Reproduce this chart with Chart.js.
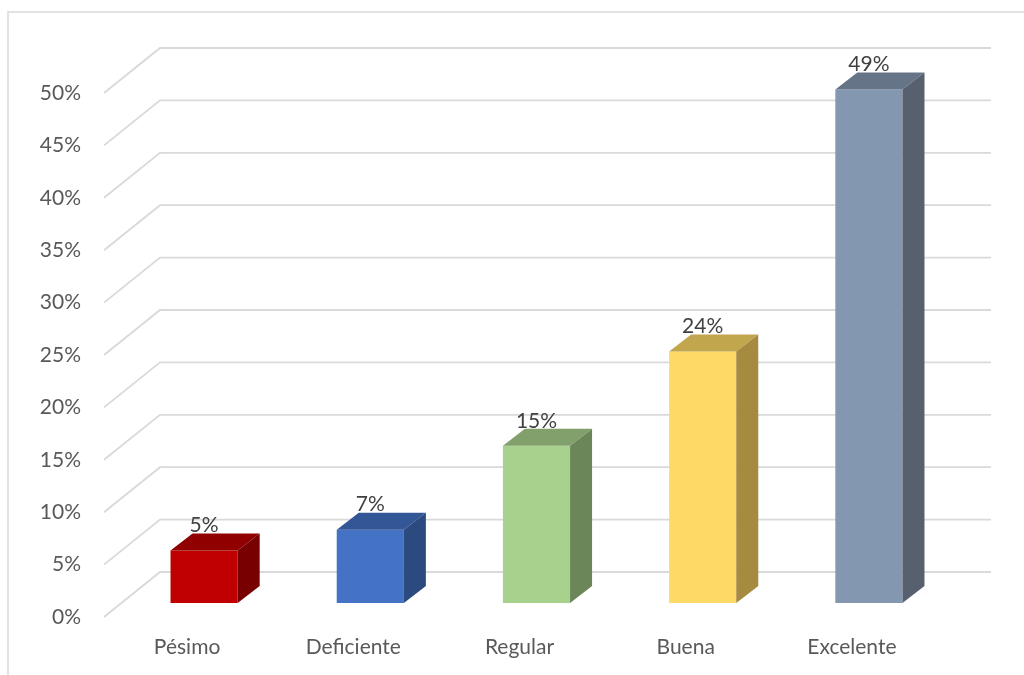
<!DOCTYPE html>
<html>
<head>
<meta charset="utf-8">
<script src="https://cdn.jsdelivr.net/npm/chart.js@4.4.0/dist/chart.umd.min.js"></script>
<style>
  html, body { margin: 0; padding: 0; background: #fff; }
  #wrap { width: 1024px; height: 675px; }
</style>
</head>
<body>
<div id="wrap"><canvas id="myChart" width="1024" height="675"></canvas></div>
<script>
// datos
const categorias = ['Pésimo', 'Deficiente', 'Regular', 'Buena', 'Excelente'];
const porcentajes = [5, 7, 15, 24, 49];
const ticksY = [0, 5, 10, 15, 20, 25, 30, 35, 40, 45, 50];

const colFrente = ['#C00000', '#4472C4', '#A9D18E', '#FFD966', '#8497B0'];
const colArriba = ['#900000', '#335696', '#82A06C', '#C2A64E', '#667487'];
const colLado   = ['#780000', '#2B4A80', '#6B8659', '#A68A40', '#56606F'];

// profundidad del "3D"
const FONDO_X = 56, FONDO_Y = -45;   // pared del fondo
const BARRA_X = 17, BARRA_Y = -14;   // plano frontal de las barras
const PROF_X = 22, PROF_Y = -17;     // grosor de cada barra

const fuente = 'Lato, "Open Sans", sans-serif';

const grafico3d = {
  id: 'grafico3d',
  beforeDraw(chart) {
    const ctx = chart.ctx;
    ctx.save();
    ctx.fillStyle = '#fff';
    ctx.fillRect(0, 0, chart.width, chart.height);
    // marco
    ctx.strokeStyle = '#d9d9d9';
    ctx.lineWidth = 1.5;
    ctx.beginPath();
    ctx.moveTo(8, 675);
    ctx.lineTo(8, 12);
    ctx.lineTo(1024, 12);
    ctx.stroke();
    ctx.restore();
  },
  beforeDatasetsDraw(chart) {
    const ctx = chart.ctx;
    const y = chart.scales.y;
    const area = chart.chartArea;
    ctx.save();
    ctx.strokeStyle = '#d9d9d9';
    ctx.lineWidth = 1.8;
    ticksY.forEach(v => {
      const py = y.getPixelForValue(v);
      ctx.beginPath();
      ctx.moveTo(area.left, py);
      ctx.lineTo(area.left + FONDO_X, py + FONDO_Y);
      ctx.lineTo(area.right + FONDO_X, py + FONDO_Y);
      ctx.stroke();
    });
    ctx.restore();
    // las barras se dibujan desplazadas hacia el fondo
    ctx.save();
    ctx.translate(BARRA_X, BARRA_Y);
  },
  afterDatasetsDraw(chart) {
    const ctx = chart.ctx;
    ctx.restore();
    const meta = chart.getDatasetMeta(0);
    ctx.save();
    ctx.translate(BARRA_X, BARRA_Y);
    meta.data.forEach((bar, i) => {
      const p = bar.getProps(['x', 'y', 'base', 'width'], true);
      const l = p.x - p.width / 2, r = p.x + p.width / 2;
      // cara superior
      ctx.fillStyle = colArriba[i];
      ctx.beginPath();
      ctx.moveTo(l, p.y);
      ctx.lineTo(l + PROF_X, p.y + PROF_Y);
      ctx.lineTo(r + PROF_X, p.y + PROF_Y);
      ctx.lineTo(r, p.y);
      ctx.closePath();
      ctx.fill();
      // cara lateral
      ctx.fillStyle = colLado[i];
      ctx.beginPath();
      ctx.moveTo(r, p.y);
      ctx.lineTo(r + PROF_X, p.y + PROF_Y);
      ctx.lineTo(r + PROF_X, p.base + PROF_Y);
      ctx.lineTo(r, p.base);
      ctx.closePath();
      ctx.fill();
      // etiqueta
      ctx.fillStyle = '#404040';
      ctx.font = '21px ' + fuente;
      ctx.textAlign = 'center';
      ctx.textBaseline = 'middle';
      ctx.fillText(porcentajes[i] + '%', p.x, p.y - 25);
    });
    ctx.restore();
  }
};

new Chart(document.getElementById('myChart'), {
  type: 'bar',
  data: {
    labels: categorias,
    datasets: [{
      data: porcentajes,
      backgroundColor: colFrente,
      borderWidth: 0,
      categoryPercentage: 1,
      barPercentage: 0.404
    }]
  },
  options: {
    responsive: false,
    animation: false,
    events: [],
    layout: { padding: { top: 93, right: 89, bottom: 0, left: 0 } },
    plugins: { legend: { display: false }, tooltip: { enabled: false } },
    scales: {
      x: {
        grid: { display: false, drawTicks: false },
        border: { display: false },
        ticks: { color: '#595959', font: { family: fuente, size: 21 }, padding: 18 },
        afterFit(s) { s.height = 58; }
      },
      y: {
        min: 0, max: 50,
        afterBuildTicks(s) { s.ticks = ticksY.map(v => ({ value: v })); },
        grid: { display: false, drawTicks: false },
        border: { display: false },
        ticks: {
          color: '#595959', font: { family: fuente, size: 21 }, padding: 23,
          callback: v => v + '%'
        },
        afterFit(s) { s.width = 104; }
      }
    }
  },
  plugins: [grafico3d]
});
</script>
</body>
</html>
